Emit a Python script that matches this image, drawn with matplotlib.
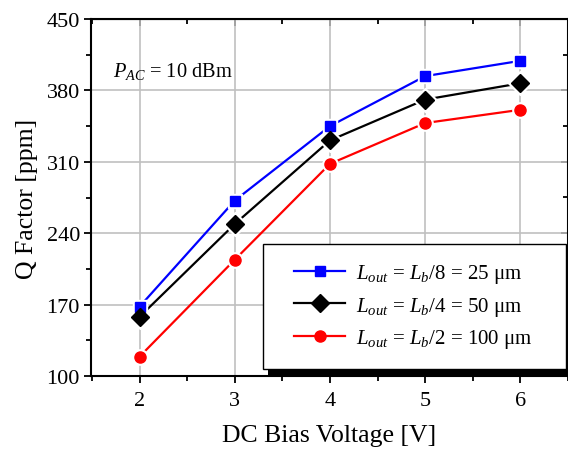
import matplotlib
matplotlib.use("Agg")
import matplotlib.pyplot as plt
from matplotlib.patches import Rectangle
from matplotlib.lines import Line2D
from matplotlib.legend_handler import HandlerLine2D

plt.rcParams['font.family'] = ['Liberation Serif', 'DejaVu Serif']
plt.rcParams['mathtext.fontset'] = 'custom'
plt.rcParams['mathtext.rm'] = 'Liberation Serif'
plt.rcParams['mathtext.it'] = 'Liberation Serif:italic'

# data
voltage = [2, 3, 4, 5, 6]
q_25um = [168, 272, 345, 394, 409]
q_50um = [158, 249, 331, 371, 387]
q_100um = [119, 214, 308, 348, 361]
labels = [r'$L_{out}$ = $L_b$/8 = 25 μm',
          r'$L_{out}$ = $L_b$/4 = 50 μm',
          r'$L_{out}$ = $L_b$/2 = 100 μm']
yticks = [100, 170, 240, 310, 380, 450]

fig = plt.figure(figsize=(5.68, 4.56), dpi=100)
ax = fig.add_axes([91/568, 79/456, 477/568, 357/456])

series = [(q_25um, 'blue', 's', 7.3), (q_50um, 'black', 'D', 9), (q_100um, 'red', 'o', 8)]
for (vals, col, mk, ms), lab in zip(series, labels):
    ax.plot(voltage, vals, color=col, lw=1.6, marker=mk, ms=ms, mec=col, label=lab, zorder=3)
    # white halo so lines stop short of markers
    ax.plot(voltage, vals, ls='none', marker=mk, ms=ms + 3, mfc='white', mec='white', zorder=4)
    ax.plot(voltage, vals, ls='none', marker=mk, ms=ms, mfc=col, mec=col, zorder=4.5)

ax.set_xlim(1.49, 6.44)
ax.set_ylim(100, 450)
ax.set_xticks(voltage)
ax.set_xticks([1.5, 2.5, 3.5, 4.5, 5.5, 6.5], minor=True)
ax.set_yticks(yticks)
ax.set_yticks([y + 35 for y in yticks[:-1]], minor=True)
ax.grid(True, which='major', color='#c0c0c0', lw=1.2, zorder=0)
ax.set_axisbelow(True)

for s in ax.spines.values():
    s.set_linewidth(1.5)
ax.tick_params(which='both', direction='out', labelsize=16, width=1.3,
               top=False, right=False)
ax.tick_params(axis='x', pad=6)
ax.tick_params(axis='y', pad=3)
ax.tick_params(which='major', length=5)
ax.tick_params(which='minor', length=3.5)

top = ax.secondary_xaxis('top')
top.set_xticks(voltage)
top.set_xticks([1.5, 2.5, 3.5, 4.5, 5.5, 6.5], minor=True)
top.tick_params(which='both', direction='in', labeltop=False, width=1.3)
top.tick_params(which='major', length=5)
top.tick_params(which='minor', length=3.5)
right = ax.secondary_yaxis('right')
right.set_yticks(yticks)
right.set_yticks([y + 35 for y in yticks[:-1]], minor=True)
right.tick_params(which='both', direction='in', labelright=False, width=1.3)
right.tick_params(which='major', length=5)
right.tick_params(which='minor', length=3.5)

ax.set_xlabel('DC Bias Voltage [V]', fontsize=18.5, labelpad=10)
ax.set_ylabel('Q Factor [ppm]', fontsize=18.5, labelpad=6)

ax.text(0.046, 0.84, r'$P_{AC}$ = 10 dBm', transform=ax.transAxes, fontsize=14.7,
        va='baseline', ha='left')

leg = ax.legend(loc='lower left', bbox_to_anchor=(0.361, 0.02, 0.635, 0.34), mode='expand',
                fontsize=15, frameon=True, fancybox=False, edgecolor='black', framealpha=1,
                handlelength=3.05, handletextpad=0.5, borderpad=0.9, labelspacing=0.45,
                borderaxespad=0, handler_map={Line2D: HandlerLine2D(xpad=0.6)})
leg.get_frame().set_linewidth(1.0)
leg.set_zorder(6)

fig.canvas.draw()
bb = leg.get_window_extent()
ax.add_patch(Rectangle((bb.x0 + 5, bb.y0 - 7), bb.width, bb.height, transform=None,
                       facecolor='black', edgecolor='none', clip_on=False, zorder=5.5))

fig.savefig('out.png', dpi=100)
